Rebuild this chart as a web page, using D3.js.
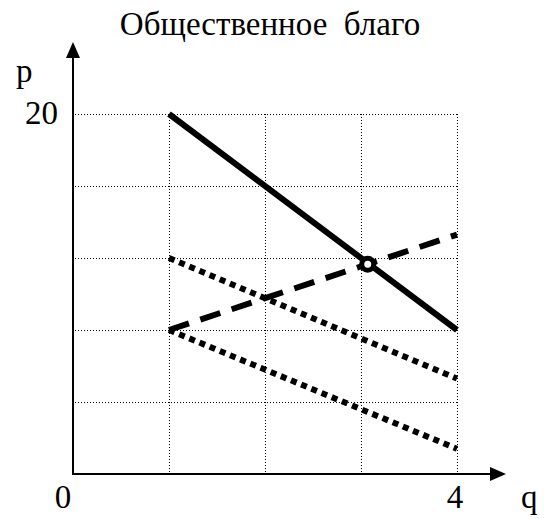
<!DOCTYPE html>
<html><head><meta charset="utf-8"><script src="https://cdn.jsdelivr.net/npm/d3@7"></script>
<style>
  svg text, text { font-family: "Liberation Serif", "Times New Roman", Tinos, serif !important; }
</style>
</head>
<body style="margin:0;background:#fff">
<script>
// ===== chart data =====
const titleText = "Общественное\u00a0\u00a0благо";
const qEnds = [1, 4];                 // q at start and end of each line
const demandP = [20, 8];              // solid line
const supplyP = [8, 13.3];            // dashed line
const upperDottedP = [12, 5.3];       // dotted line (upper)
const lowerDottedP = [8, 1.4];        // dotted line (lower)
const equilibriumQ = [3.07];
const equilibriumP = [11.65];
const gridQ = [1, 2, 3, 4];
const gridP = [4, 8, 12, 16, 20];
const yTickLabels = [{ v: 20, t: "20" }];
const xTickLabels = [{ v: 0, t: "0" }, { v: 4, t: "4" }];

const svg = d3.select("body").append("svg").attr("width", 546).attr("height", 519).style("display", "block");
const x = d3.scaleLinear().domain([0, 4]).range([73, 457]);
const y = d3.scaleLinear().domain([0, 20]).range([474, 114]);

// grid
const grid = svg.append("g").attr("stroke", "#000").attr("stroke-width", 1)
  .attr("stroke-dasharray", "1,2").attr("fill", "none");
grid.selectAll("line.h").data(gridP).join("line").attr("class", "h")
  .attr("x1", x(0) + 2).attr("x2", x(4)).attr("y1", d => y(d) + 0.5).attr("y2", d => y(d) + 0.5);
grid.selectAll("line.v").data(gridQ).join("line").attr("class", "v")
  .attr("x1", d => x(d) + 0.5).attr("x2", d => x(d) + 0.5).attr("y1", y(20)).attr("y2", y(0));

// axes
const axes = svg.append("g");
axes.append("line").attr("x1", x(0)).attr("x2", x(0)).attr("y1", y(0) + 1).attr("y2", 56)
  .attr("stroke", "#000").attr("stroke-width", 2);
axes.append("path").attr("d", `M${x(0)},42 L${x(0) - 7},58 L${x(0) + 7},58 Z`).attr("fill", "#000");
axes.append("line").attr("x1", x(0) - 1).attr("x2", 492).attr("y1", y(0)).attr("y2", y(0))
  .attr("stroke", "#000").attr("stroke-width", 2);
axes.append("path").attr("d", `M506,${y(0)} L490,${y(0) - 7} L490,${y(0) + 7} Z`).attr("fill", "#000");

// lines
const lineGen = d3.line().x(d => x(d[0])).y(d => y(d[1]));
const seg = vals => qEnds.map((q, i) => [q, vals[i]]);
const series = [
  { vals: demandP, dash: null },
  { vals: supplyP, dash: "21,12" },
  { vals: upperDottedP, dash: "6,5" },
  { vals: lowerDottedP, dash: "6,5" }
];
svg.append("g").selectAll("path").data(series).join("path")
  .attr("d", d => lineGen(seg(d.vals)))
  .attr("fill", "none").attr("stroke", "#000").attr("stroke-width", 6)
  .attr("stroke-dasharray", d => d.dash);

// equilibrium marker
svg.append("g").selectAll("circle").data(equilibriumQ).join("circle")
  .attr("cx", d => x(d)).attr("cy", (d, i) => y(equilibriumP[i]))
  .attr("r", 6).attr("fill", "#fff").attr("stroke", "#000").attr("stroke-width", 5);

// texts
const labels = [
  { t: titleText, x: 270, y: 35, a: "middle" },
  { t: "p", x: 16, y: 82, a: "start" },
  ...yTickLabels.map(d => ({ t: d.t, x: 58, y: y(d.v) + 10, a: "end" })),
  ...xTickLabels.map(d => ({ t: d.t, x: x(d.v) + (d.v === 4 ? -2 : -10), y: 508, a: "middle" })),
  { t: "q", x: 521, y: 508, a: "start" }
];
svg.selectAll("text").data(labels).join("text")
  .attr("x", d => d.x).attr("y", d => d.y).attr("text-anchor", d => d.a)
  .attr("font-family", "Liberation Serif")
  .attr("font-size", 33)
  .style("font-family", '"Liberation Serif", "Times New Roman", serif', "important")
  .attr("fill", "#000")
  .text(d => d.t);
</script>
</body></html>
